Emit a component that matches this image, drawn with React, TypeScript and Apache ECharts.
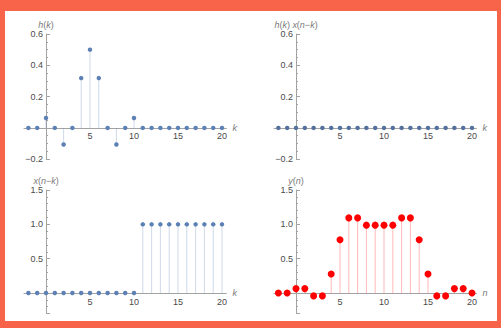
import React, { useEffect, useRef } from "react";
import * as echarts from "echarts";

const kValues = [-2, -1, 0, 1, 2, 3, 4, 5, 6, 7, 8, 9, 10, 11, 12, 13, 14, 15, 16, 17, 18, 19, 20];
const hValues = [0, 0, 0.0637, 0, -0.1061, 0, 0.3183, 0.5, 0.3183, 0, -0.1061, 0, 0.0637, 0, 0, 0, 0, 0, 0, 0, 0, 0, 0];
const productValues = [0, 0, 0, 0, 0, 0, 0, 0, 0, 0, 0, 0, 0, 0, 0, 0, 0, 0, 0, 0, 0, 0, 0];
const shiftedXValues = [0, 0, 0, 0, 0, 0, 0, 0, 0, 0, 0, 0, 0, 1, 1, 1, 1, 1, 1, 1, 1, 1, 1];
const yValues = [0, 0, 0.064, 0.064, -0.042, -0.042, 0.276, 0.776, 1.094, 1.094, 0.988, 0.988, 0.988, 0.988, 1.094, 1.094, 0.776, 0.276, -0.042, -0.042, 0.064, 0.064, 0];

const FONT = "Liberation Sans, Arial, sans-serif";
const AXIS = "#a3a3a3";
const LABEL = "#4a4a4a";
const NAME = "#7a7a7a";
const BLUE = "#5E81B5";
const RED = "#FF0000";

const X_MIN = -2.5;
const X_MAX = 20.5;

const fmt = (v: number) => {
  if (Math.abs(v) < 1e-9) return "";
  return (v < 0 ? "\u2212" : "") + Math.abs(v).toFixed(1);
};

export default function App() {
  const ref = useRef<HTMLDivElement>(null);
  useEffect(() => {
    if (!ref.current) return;
    const chart = echarts.init(ref.current, undefined, { renderer: "svg" });
    const W = 202.4;
    const grids = [
      { left: 24, top: 34, width: W, height: 125.2 },
      { left: 274, top: 34, width: W, height: 125.2 },
      { left: 24, top: 190, width: W, height: 123.6 },
      { left: 274, top: 190, width: W, height: 123.6 },
    ];
    const yRanges = [
      [-0.2, 0.6],
      [-0.2, 0.6],
      [-0.3, 1.5],
      [-0.3, 1.5],
    ];
    const nameStyle = {
      color: NAME,
      fontSize: 9,
      fontFamily: FONT,
      rich: { i: { fontStyle: "italic", color: NAME, fontSize: 9, fontFamily: FONT } },
    };
    // offsets that place each axis on the other's zero
    const yOffset = -((0 - X_MIN) / (X_MAX - X_MIN)) * W;
    const xAxes = [0, 1, 2, 3].map((i) => {
      const [lo, hi] = yRanges[i];
      const xOffset = -((0 - lo) / (hi - lo)) * grids[i].height;
      return {
        type: "value",
        gridIndex: i,
        position: "bottom",
        offset: xOffset,
        min: X_MIN,
        max: X_MAX,
        minInterval: 5,
        maxInterval: 5,
        name: i === 3 ? "{i|n}" : "{i|k}",
        nameLocation: "end",
        nameGap: 6,
        nameTextStyle: nameStyle,
        axisLine: { onZero: false, lineStyle: { color: AXIS, width: 1 } },
        axisTick: { show: false },
        splitLine: { show: false },
        axisLabel: {
          color: LABEL,
          fontSize: 9,
          fontFamily: FONT,
          margin: 4,
          formatter: (v: number) => (Math.abs(v % 5) < 1e-9 && v !== 0 ? String(v) : ""),
        },
      };
    });
    const yNames = ["{i|h}({i|k})", "{i|h}({i|k}) {i|x}({i|n}\u2212{i|k})", "{i|x}({i|n}\u2212{i|k})", "{i|y}({i|n})"];
    const yAxes = [0, 1, 2, 3].map((i) => {
      const top = i < 2;
      const step = top ? 0.2 : 0.5;
      return {
        type: "value",
        gridIndex: i,
        position: "left",
        offset: yOffset,
        min: yRanges[i][0],
        max: yRanges[i][1],
        minInterval: step,
        maxInterval: step,
        name: yNames[i],
        nameLocation: "end",
        nameGap: 5,
        nameTextStyle: nameStyle,
        axisLine: { onZero: false, lineStyle: { color: AXIS, width: 1 } },
        axisTick: { show: true, inside: true, length: 4, lineStyle: { color: AXIS } },
        minorTick: { show: true, splitNumber: top ? 4 : 5, length: 2, lineStyle: { color: AXIS } },
        splitLine: { show: false },
        axisLabel: {
          color: LABEL,
          fontSize: 9,
          fontFamily: FONT,
          margin: 3,
          formatter: (v: number) => {
            const r = Math.round(v / step) * step;
            if (Math.abs(r - v) > 1e-6) return "";
            return fmt(v);
          },
        },
      };
    });
    const toPairs = (vals: number[]) => kValues.map((k, j) => [k, vals[j]]);
    const panels = [
      { vals: hValues, color: BLUE, stem: "rgba(94,129,181,0.3)", size: 4.5 },
      { vals: productValues, color: "#54709c", stem: "rgba(94,129,181,0.3)", size: 4.5 },
      { vals: shiftedXValues, color: BLUE, stem: "rgba(94,129,181,0.3)", size: 4.5 },
      { vals: yValues, color: RED, stem: "rgba(255,0,0,0.28)", size: 7 },
    ];
    const series: any[] = [];
    panels.forEach((p, i) => {
      series.push({
        type: "bar",
        xAxisIndex: i,
        yAxisIndex: i,
        data: toPairs(p.vals),
        barWidth: 1,
        itemStyle: { color: p.stem },
        silent: true,
        z: 1,
      });
      series.push({
        type: "scatter",
        xAxisIndex: i,
        yAxisIndex: i,
        data: toPairs(p.vals),
        symbol: "circle",
        symbolSize: p.size,
        itemStyle: { color: p.color, opacity: 1 },
        z: 3,
      });
    });
    chart.setOption({
      animation: false,
      backgroundColor: "#F7644A",
      graphic: [
        { type: "rect", z: -10, shape: { x: 5, y: 11, width: 492, height: 310 }, style: { fill: "#ffffff" } },
      ],
      grid: grids,
      xAxis: xAxes,
      yAxis: yAxes,
      series,
    });
    return () => chart.dispose();
  }, []);
  return (
    <div style={{ position: "fixed", left: 0, top: 0, width: 501, height: 328 }}>
      <div ref={ref} style={{ width: 501, height: 328 }} />
    </div>
  );
}
